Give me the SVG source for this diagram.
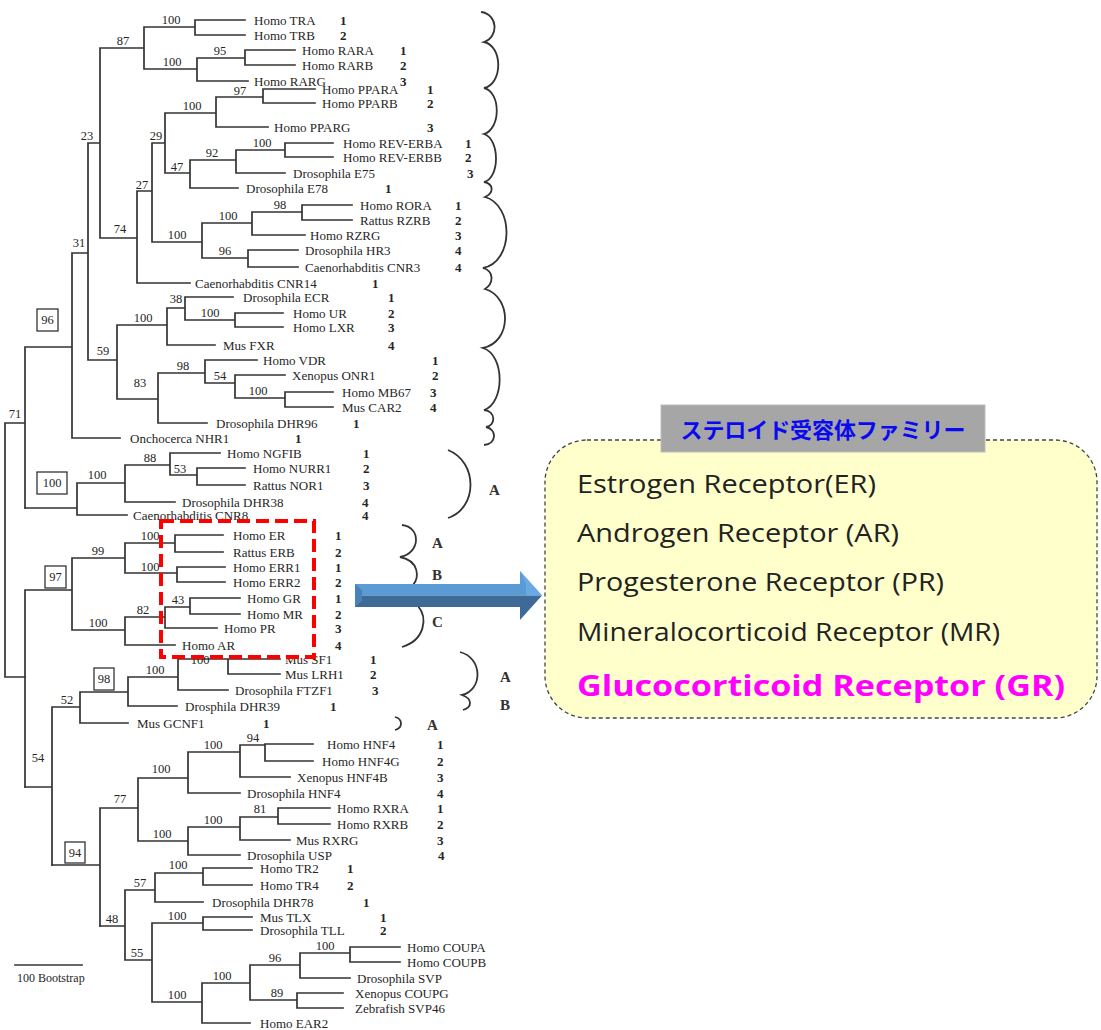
<svg xmlns="http://www.w3.org/2000/svg" width="1101" height="1030" viewBox="0 0 1101 1030">
<style>
.br{stroke:#333;stroke-width:1.7;fill:none;stroke-linecap:square}
.t{font-family:"Liberation Serif",serif;font-size:13px;fill:#262626}
.n{font-family:"Liberation Serif",serif;font-size:13px;font-weight:bold;fill:#262626}
.s{font-family:"Liberation Serif",serif;font-size:12.5px;fill:#262626;text-anchor:middle}
.bx{fill:none;stroke:#333;stroke-width:1.3}
.k{fill:none;stroke:#333;stroke-width:1.8}
.L{font-family:"Liberation Serif",serif;font-size:15px;font-weight:bold;fill:#333}
.r{font-family:"Open Sans","DejaVu Sans",sans-serif;font-size:25px;fill:#222}
.g{font-family:"Open Sans","DejaVu Sans",sans-serif;font-size:28px;font-weight:bold;fill:#ff00ff}
</style>
<rect width="1101" height="1030" fill="#ffffff"/>

<g id="connectors">
<path class="br" d="M100,48 H144 M144,27 V69 M144,27 H195 M195,20 V35 M195,20 H245 M195,35 H245 M144,69 H197 M197,58 V81 M197,58 H245 M245,50 V65 M245,50 H295 M245,65 H295 M197,81 H248 M100,48 V238 M88,143 H100 M152,143 H165 M165,113 V173 M165,113 H216 M216,97 V127 M216,97 H263 M263,89 V103 M263,89 H315 M263,103 H315 M216,127 H268 M165,173 H190 M190,160 V188 M190,160 H236 M236,150 V173 M236,150 H285 M285,143 V157 M285,143 H333 M285,157 H333 M236,173 H285 M190,188 H238 M137,191 H152 M152,143 V242 M152,242 H202 M202,223 V258 M202,223 H252 M252,212 V235 M252,212 H302 M302,205 V220 M302,205 H352 M302,220 H352 M252,235 H305 M202,258 H248 M248,250 V267 M248,250 H298 M248,267 H298 M100,238 H137 M137,191 V283 M137,283 H190 M72,253 H88 M88,143 V360 M88,360 H117 M117,325 V399 M117,325 H167 M167,308 V345 M167,308 H185 M185,297 V320 M185,297 H233 M185,320 H235 M235,313 V327 M235,313 H283 M235,327 H283 M167,345 H215 M117,399 H158 M158,373 V423 M158,373 H205 M205,360 V383 M205,360 H257 M205,383 H235 M235,375 V398 M235,375 H285 M235,398 H285 M285,392 V407 M285,392 H333 M285,407 H333 M158,423 H207 M25,347 H72 M72,253 V438 M72,438 H120 M25,347 V508 M5,423 H25 M5,423 V677 M5,677 H25"/>
<path class="br" d="M25,508 H77 M77,483 V515 M77,483 H125 M125,465 V502 M125,465 H170 M170,453 V475 M170,453 H220 M170,475 H197 M197,468 V485 M197,468 H245 M197,485 H245 M125,502 H175 M77,515 H127"/>
<path class="br" d="M25,590 V787 M25,590 H72 M72,558 V630 M72,558 H125 M125,543 V573 M125,543 H175 M175,535 V552 M175,535 H223 M175,552 H223 M125,573 H177 M177,567 V582 M177,567 H225 M177,582 H225 M72,630 H125 M125,617 V645 M125,617 H165 M165,607 V628 M165,607 H190 M190,598 V614 M190,598 H240 M190,614 H240 M165,628 H217 M125,645 H175"/>
<path class="br" d="M25,787 H52 M52,707 V865 M52,707 H80 M80,692 V723 M80,692 H128 M128,677 V706 M128,677 H178 M178,659 V690 M178,659 H228 M228,659 V674 M228,659 H280 M228,674 H280 M178,690 H228 M128,706 H177 M80,723 H128"/>
<path class="br" d="M52,865 H100 M100,808 V926 M100,808 H138 M138,778 V841 M138,778 H188 M188,752 V793 M188,752 H240 M240,745 V777 M240,745 H265 M265,744 V761 M265,744 H313 M265,761 H313 M240,777 H290 M188,793 H240 M138,841 H188 M188,827 V855 M188,827 H240 M240,817 V840 M240,817 H278 M278,808 V824 M278,808 H330 M278,824 H330 M240,840 H290 M188,855 H240"/>
<path class="br" d="M100,926 H125 M125,890 V960 M125,890 H155 M155,873 V902 M155,873 H203 M203,868 V885 M203,868 H252 M203,885 H252 M155,902 H203 M125,960 H152 M152,923 V1002 M152,923 H203 M203,917 V930 M203,917 H252 M203,930 H252 M152,1002 H202 M202,983 V1023 M202,983 H250 M250,965 V1000 M250,965 H300 M300,953 V978 M300,953 H350 M350,947 V962 M350,947 H400 M350,962 H400 M300,978 H350 M250,1000 H297 M297,993 V1008 M297,993 H343 M297,1008 H343 M202,1023 H250"/>
</g>

<g id="bootstrap">
<text class="s" x="123" y="45">87</text>
<text class="s" x="171" y="24">100</text>
<text class="s" x="172" y="66">100</text>
<text class="s" x="220" y="55">95</text>
<text class="s" x="87" y="140">23</text>
<text class="s" x="156" y="140">29</text>
<text class="s" x="192" y="110">100</text>
<text class="s" x="240" y="95">97</text>
<text class="s" x="177" y="171">47</text>
<text class="s" x="212" y="157">92</text>
<text class="s" x="262" y="147">100</text>
<text class="s" x="142" y="189">27</text>
<text class="s" x="177" y="239">100</text>
<text class="s" x="228" y="220">100</text>
<text class="s" x="280" y="209">98</text>
<text class="s" x="225" y="255">96</text>
<text class="s" x="120" y="233">74</text>
<text class="s" x="79" y="247">31</text>
<text class="s" x="103" y="355">59</text>
<text class="s" x="143" y="322">100</text>
<text class="s" x="176" y="303">38</text>
<text class="s" x="210" y="317">100</text>
<text class="s" x="140" y="387">83</text>
<text class="s" x="183" y="370">98</text>
<text class="s" x="220" y="380">54</text>
<text class="s" x="258" y="395">100</text>
<text class="s" x="15" y="418">71</text>
<text class="s" x="97" y="479">100</text>
<text class="s" x="150" y="462">88</text>
<text class="s" x="180" y="473">53</text>
<text class="s" x="98" y="555">99</text>
<text class="s" x="150" y="540">100</text>
<text class="s" x="150" y="571">100</text>
<text class="s" x="98" y="627">100</text>
<text class="s" x="143" y="614">82</text>
<text class="s" x="178" y="604">43</text>
<text class="s" x="38" y="762">54</text>
<text class="s" x="67" y="704">52</text>
<text class="s" x="155" y="674">100</text>
<text class="s" x="200" y="664">100</text>
<text class="s" x="120" y="803">77</text>
<text class="s" x="161" y="773">100</text>
<text class="s" x="213" y="749">100</text>
<text class="s" x="253" y="742">94</text>
<text class="s" x="162" y="838">100</text>
<text class="s" x="213" y="824">100</text>
<text class="s" x="260" y="813">81</text>
<text class="s" x="112" y="923">48</text>
<text class="s" x="140" y="887">57</text>
<text class="s" x="178" y="869">100</text>
<text class="s" x="137" y="957">55</text>
<text class="s" x="177" y="920">100</text>
<text class="s" x="177" y="999">100</text>
<text class="s" x="222" y="980">100</text>
<text class="s" x="275" y="962">96</text>
<text class="s" x="325" y="950">100</text>
<text class="s" x="277" y="997">89</text>
<rect class="bx" x="37" y="309" width="21" height="22"/><text class="s" x="47.5" y="324">96</text>
<rect class="bx" x="37" y="472" width="30" height="22"/><text class="s" x="52" y="487">100</text>
<rect class="bx" x="45" y="566" width="21" height="22"/><text class="s" x="55.5" y="581">97</text>
<rect class="bx" x="94" y="668" width="20" height="22"/><text class="s" x="104" y="683">98</text>
<rect class="bx" x="65" y="842" width="20" height="21"/><text class="s" x="75" y="857">94</text>
</g>

<g id="leaves">
<g id="n-tra"><text class="t" x="254" y="24.5">Homo TRA</text><text class="n" x="340" y="24.5">1</text></g>
<g id="n-trb"><text class="t" x="254" y="39.5">Homo TRB</text><text class="n" x="340" y="39.5">2</text></g>
<g id="n-rara"><text class="t" x="302" y="54.5">Homo RARA</text><text class="n" x="400" y="54.5">1</text></g>
<g id="n-rarb"><text class="t" x="302" y="69.5">Homo RARB</text><text class="n" x="400" y="69.5">2</text></g>
<g id="n-rarg"><text class="t" x="254" y="85.5">Homo RARG</text><text class="n" x="400" y="85.5">3</text></g>
<g id="n-ppara"><text class="t" x="322" y="93.5">Homo PPARA</text><text class="n" x="427" y="93.5">1</text></g>
<g id="n-pparb"><text class="t" x="322" y="107.5">Homo PPARB</text><text class="n" x="427" y="107.5">2</text></g>
<g id="n-pparg"><text class="t" x="274" y="131.5">Homo PPARG</text><text class="n" x="427" y="131.5">3</text></g>
<g id="n-reva"><text class="t" x="343" y="147.5">Homo REV-ERBA</text><text class="n" x="465" y="147.5">1</text></g>
<g id="n-revb"><text class="t" x="343" y="161.5">Homo REV-ERBB</text><text class="n" x="465" y="161.5">2</text></g>
<g id="n-e75"><text class="t" x="293" y="177.5">Drosophila E75</text><text class="n" x="467" y="177.5">3</text></g>
<g id="n-e78"><text class="t" x="246" y="192.5">Drosophila E78</text><text class="n" x="385" y="192.5">1</text></g>
<g id="n-rora"><text class="t" x="360" y="209.5">Homo RORA</text><text class="n" x="455" y="209.5">1</text></g>
<g id="n-rzrb"><text class="t" x="360" y="224.5">Rattus RZRB</text><text class="n" x="455" y="224.5">2</text></g>
<g id="n-rzrg"><text class="t" x="310" y="239.5">Homo RZRG</text><text class="n" x="455" y="239.5">3</text></g>
<g id="n-hr3"><text class="t" x="305" y="254.5">Drosophila HR3</text><text class="n" x="455" y="254.5">4</text></g>
<g id="n-cnr3"><text class="t" x="305" y="271.5">Caenorhabditis CNR3</text><text class="n" x="455" y="271.5">4</text></g>
<g id="n-cnr14"><text class="t" x="195" y="287.5">Caenorhabditis CNR14</text><text class="n" x="372" y="287.5">1</text></g>
<g id="n-ecr"><text class="t" x="243" y="301.5">Drosophila ECR</text><text class="n" x="388" y="301.5">1</text></g>
<g id="n-ur"><text class="t" x="293" y="317.5">Homo UR</text><text class="n" x="388" y="317.5">2</text></g>
<g id="n-lxr"><text class="t" x="293" y="331.5">Homo LXR</text><text class="n" x="388" y="331.5">3</text></g>
<g id="n-fxr"><text class="t" x="223" y="349.5">Mus FXR</text><text class="n" x="388" y="349.5">4</text></g>
<g id="n-vdr"><text class="t" x="263" y="364.5">Homo VDR</text><text class="n" x="432" y="364.5">1</text></g>
<g id="n-onr1"><text class="t" x="292" y="379.5">Xenopus ONR1</text><text class="n" x="432" y="379.5">2</text></g>
<g id="n-mb67"><text class="t" x="342" y="396.5">Homo MB67</text><text class="n" x="430" y="396.5">3</text></g>
<g id="n-car2"><text class="t" x="342" y="411.5">Mus CAR2</text><text class="n" x="430" y="411.5">4</text></g>
<g id="n-dhr96"><text class="t" x="216" y="427.5">Drosophila DHR96</text><text class="n" x="353" y="427.5">1</text></g>
<g id="n-nhr1"><text class="t" x="130" y="442.5">Onchocerca NHR1</text><text class="n" x="295" y="442.5">1</text></g>
<g id="n-ngfib"><text class="t" x="227" y="457.5">Homo NGFIB</text><text class="n" x="363" y="457.5">1</text></g>
<g id="n-nurr1"><text class="t" x="253" y="472.5">Homo NURR1</text><text class="n" x="363" y="472.5">2</text></g>
<g id="n-nor1"><text class="t" x="253" y="489.5">Rattus NOR1</text><text class="n" x="363" y="489.5">3</text></g>
<g id="n-dhr38"><text class="t" x="182" y="506.5">Drosophila DHR38</text><text class="n" x="362" y="506.5">4</text></g>
<g id="n-cnr8"><text class="t" x="133" y="519.5">Caenorhabditis CNR8</text><text class="n" x="362" y="519.5">4</text></g>
<g id="n-er"><text class="t" x="233" y="539.5">Homo ER</text><text class="n" x="335" y="539.5">1</text></g>
<g id="n-erb"><text class="t" x="233" y="556.5">Rattus ERB</text><text class="n" x="335" y="556.5">2</text></g>
<g id="n-err1"><text class="t" x="233" y="571.5">Homo ERR1</text><text class="n" x="335" y="571.5">1</text></g>
<g id="n-err2"><text class="t" x="233" y="586.5">Homo ERR2</text><text class="n" x="335" y="586.5">2</text></g>
<g id="n-gr"><text class="t" x="247" y="602.5">Homo GR</text><text class="n" x="335" y="602.5">1</text></g>
<g id="n-mr"><text class="t" x="247" y="618.5">Homo MR</text><text class="n" x="335" y="618.5">2</text></g>
<g id="n-pr"><text class="t" x="224" y="632.5">Homo PR</text><text class="n" x="335" y="632.5">3</text></g>
<g id="n-ar"><text class="t" x="182" y="649.5">Homo AR</text><text class="n" x="335" y="649.5">4</text></g>
<g id="n-sf1"><text class="t" x="285" y="663.5">Mus SF1</text><text class="n" x="370" y="663.5">1</text></g>
<g id="n-lrh1"><text class="t" x="285" y="678.5">Mus LRH1</text><text class="n" x="370" y="678.5">2</text></g>
<g id="n-ftzf1"><text class="t" x="235" y="694.5">Drosophila FTZF1</text><text class="n" x="372" y="694.5">3</text></g>
<g id="n-dhr39"><text class="t" x="185" y="710.5">Drosphila DHR39</text><text class="n" x="330" y="710.5">1</text></g>
<g id="n-gcnf1"><text class="t" x="137" y="727.5">Mus GCNF1</text><text class="n" x="263" y="727.5">1</text></g>
<g id="n-hnf4"><text class="t" x="327" y="748.5">Homo HNF4</text><text class="n" x="437" y="748.5">1</text></g>
<g id="n-hnf4g"><text class="t" x="322" y="765.5">Homo HNF4G</text><text class="n" x="437" y="765.5">2</text></g>
<g id="n-hnf4b"><text class="t" x="297" y="781.5">Xenopus HNF4B</text><text class="n" x="437" y="781.5">3</text></g>
<g id="n-dhnf4"><text class="t" x="247" y="797.5">Drosophila HNF4</text><text class="n" x="437" y="797.5">4</text></g>
<g id="n-rxra"><text class="t" x="337" y="812.5">Homo RXRA</text><text class="n" x="437" y="812.5">1</text></g>
<g id="n-rxrb"><text class="t" x="337" y="828.5">Homo RXRB</text><text class="n" x="437" y="828.5">2</text></g>
<g id="n-rxrg"><text class="t" x="296" y="844.5">Mus RXRG</text><text class="n" x="437" y="844.5">3</text></g>
<g id="n-usp"><text class="t" x="247" y="859.5">Drosophila USP</text><text class="n" x="438" y="859.5">4</text></g>
<g id="n-tr2"><text class="t" x="260" y="872.5">Homo TR2</text><text class="n" x="347" y="872.5">1</text></g>
<g id="n-tr4"><text class="t" x="260" y="889.5">Homo TR4</text><text class="n" x="347" y="889.5">2</text></g>
<g id="n-dhr78"><text class="t" x="212" y="906.5">Drosophila DHR78</text><text class="n" x="363" y="906.5">1</text></g>
<g id="n-tlx"><text class="t" x="260" y="921.5">Mus TLX</text><text class="n" x="380" y="921.5">1</text></g>
<g id="n-tll"><text class="t" x="260" y="934.5">Drosophila TLL</text><text class="n" x="380" y="934.5">2</text></g>
<g id="n-coupa"><text class="t" x="407" y="951.5">Homo COUPA</text></g>
<g id="n-coupb"><text class="t" x="407" y="966.5">Homo COUPB</text></g>
<g id="n-svp"><text class="t" x="357" y="982.5">Drosophila SVP</text></g>
<g id="n-coupg"><text class="t" x="355" y="997.5">Xenopus COUPG</text></g>
<g id="n-svp46"><text class="t" x="355" y="1012.5">Zebrafish SVP46</text></g>
<g id="n-ear2"><text class="t" x="260" y="1027.5">Homo EAR2</text></g>
</g>

<g id="scale">
<path class="br" d="M15,965 H82"/>
<text class="t" x="17" y="982" style="font-size:12px">100 Bootstrap</text>
</g>

<g id="brackets">
<path class="k" d="M481,12 C498,14 499,37 484,42 C503,46 503,84 484,88 C501,92 501,129 484,134 C500,139 500,178 484,182 C494,184 494,193 485,197 C514,205 514,262 483,268 C494,271 494,283 485,289 C512,297 512,342 483,348 C505,355 505,403 484,410 C496,411 496,426 486,427 C497,429 497,444 484,445"/>
<path class="k" d="M448,450 C478,462 478,508 448,518"/>
<text class="L" x="489" y="495">A</text>
<path class="k" d="M402,525 C421,527 421,553 400,557 C420,561 419,578 413,585"/>
<text class="L" x="432" y="548">A</text>
<text class="L" x="432" y="580">B</text>
<path class="k" d="M418,606 C428,618 425,640 402,647"/>
<text class="L" x="432" y="627">C</text>
<path class="k" d="M460,652 C483,658 483,690 462,695 C473,699 472,707 463,710"/>
<text class="L" x="500" y="682">A</text>
<text class="L" x="500" y="710">B</text>
<path class="k" d="M395,717 C403,719 403,728 395,730"/>
<text class="L" x="427" y="730">A</text>
</g>

<g id="highlight">
<rect x="161" y="521" width="153" height="136" fill="none" stroke="#ff0000" stroke-width="4" stroke-dasharray="13 6"/>
</g>

<g id="arrow">
<polygon points="355,584 520,584 520,571 542,595.5 355,595.5" fill="#5b9bd5"/>
<polygon points="355,595.5 542,595.5 520,620 520,607 355,607" fill="#3d6a96"/>
<polygon points="355,584 362,590 362,601 355,607" fill="#4a82b8"/>
<polygon points="520,571 526,584 526,595.5 542,595.5" fill="#6aaae2"/>
</g>

<g id="steroid-family">
<rect x="545" y="440" width="552" height="278" rx="42" ry="42" fill="#ffffcc" stroke="#444" stroke-width="1.3" stroke-dasharray="4 3"/>
<rect x="661" y="405" width="324" height="47" fill="#a6a6a6" stroke="#bdbdbd" stroke-width="1"/>
<text x="823" y="438" text-anchor="middle" font-family="'Noto Sans CJK JP',sans-serif" font-weight="bold" font-size="22" fill="#0a0af0" textLength="285">ステロイド受容体ファミリー</text>
<text class="r" x="577" y="493" textLength="299" lengthAdjust="spacingAndGlyphs">Estrogen Receptor(ER)</text>
<text class="r" x="577" y="542" textLength="322" lengthAdjust="spacingAndGlyphs">Androgen Receptor (AR)</text>
<text class="r" x="577" y="591" textLength="367" lengthAdjust="spacingAndGlyphs">Progesterone Receptor (PR)</text>
<text class="r" x="577" y="641" textLength="423" lengthAdjust="spacingAndGlyphs">Mineralocorticoid Receptor (MR)</text>
<text class="g" x="577" y="696" textLength="488" lengthAdjust="spacingAndGlyphs">Glucocorticoid Receptor (GR)</text>
</g>
</svg>
